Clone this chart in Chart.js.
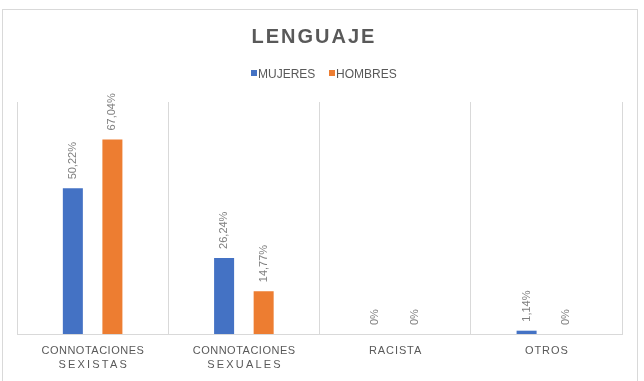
<!DOCTYPE html>
<html>
<head>
<meta charset="utf-8">
<script src="https://cdn.jsdelivr.net/npm/chart.js@4/dist/chart.umd.min.js"></script>
<style>
html,body{margin:0;padding:0;background:#fff;}
#wrap{width:644px;height:381px;position:relative;}
</style>
</head>
<body>
<div id="wrap"><canvas id="c" width="644" height="381"></canvas></div>
<script>
const titleText = 'LENGUAJE';
const categories = [['CONNOTACIONES','SEXISTAS'],['CONNOTACIONES','SEXUALES'],['RACISTA'],['OTROS']];
const seriesNames = ['MUJERES','HOMBRES'];
const mujeres = [50.22, 26.24, 0, 1.14];
const hombres = [67.04, 14.77, 0, 0];
const colors = ['#4472C4','#ED7D31'];

const FONT = '"Liberation Sans", Arial, sans-serif';

function fmt(v){
  if (Number.isInteger(v)) return v + '%';
  return v.toFixed(2).replace('.', ',') + '%';
}

const decor = {
  id: 'decor',
  beforeDraw(chart){
    const ctx = chart.ctx;
    ctx.save();
    ctx.fillStyle = '#fff';
    ctx.fillRect(0,0,chart.width,chart.height);
    ctx.strokeStyle = '#d9d9d9';
    ctx.lineWidth = 1;
    ctx.strokeRect(2.5, 9.5, 635, 372);
    ctx.restore();
  },
  afterDraw(chart){
    const ctx = chart.ctx;
    ctx.save();
    // title
    ctx.fillStyle = '#595959';
    ctx.font = 'bold 20px ' + FONT;
    ctx.letterSpacing = '2px';
    ctx.textAlign = 'center';
    ctx.textBaseline = 'alphabetic';
    ctx.fillText(titleText, 314, 43);
    // legend
    ctx.letterSpacing = '0px';
    ctx.font = '12px ' + FONT;
    ctx.textAlign = 'left';
    const lx = [251, 329];
    chart.data.datasets.forEach((ds, i) => {
      ctx.fillStyle = ds.backgroundColor;
      ctx.fillRect(lx[i], 70, 6, 6);
      ctx.fillStyle = '#595959';
      ctx.fillText(ds.label, lx[i] + 7, 77.5);
    });
    // x labels
    const xs = chart.scales.x;
    ctx.font = '11px ' + FONT;
    ctx.textAlign = 'center';
    ctx.fillStyle = '#595959';
    chart.data.labels.forEach((lab, i) => {
      const x = xs.getPixelForValue(i);
      const lines = Array.isArray(lab) ? lab : [lab];
      lines.forEach((ln, j) => {
        let ls = lines.length > 1 ? (j === 0 ? 0.5 : 2.2) : 0.9;
        ctx.letterSpacing = ls + 'px';
        ctx.fillText(ln, x + ls/2, 354 + j * 14);
      });
    });
    ctx.restore();
  },
  afterDatasetsDraw(chart){
    const ctx = chart.ctx;
    ctx.save();
    ctx.font = '11px ' + FONT;
    ctx.fillStyle = '#7f7f7f';
    ctx.textAlign = 'left';
    ctx.textBaseline = 'middle';
    chart.data.datasets.forEach((ds, di) => {
      const meta = chart.getDatasetMeta(di);
      meta.data.forEach((bar, i) => {
        ctx.save();
        ctx.translate(bar.x, bar.y - 9);
        ctx.rotate(-Math.PI/2);
        ctx.fillText(fmt(ds.data[i]), 0, 0);
        ctx.restore();
      });
    });
    ctx.restore();
  }
};

new Chart(document.getElementById('c'), {
  type: 'bar',
  data: {
    labels: categories,
    datasets: [
      {label: seriesNames[0], data: mujeres, backgroundColor: colors[0], categoryPercentage: 0.523, barPercentage: 0.506},
      {label: seriesNames[1], data: hombres, backgroundColor: colors[1], categoryPercentage: 0.523, barPercentage: 0.506}
    ]
  },
  options: {
    responsive: false,
    animation: false,
    devicePixelRatio: 1,
    layout: {padding: {top: 102, left: 17, right: 22, bottom: 47}},
    plugins: {legend: {display: false}, title: {display: false}, tooltip: {enabled: false}},
    scales: {
      x: {
        grid: {color: '#d9d9d9', offset: true, drawTicks: false},
        border: {color: '#d9d9d9'},
        ticks: {display: false}
      },
      y: {display: false, min: 0, max: 80}
    }
  },
  plugins: [decor]
});
</script>
</body>
</html>
